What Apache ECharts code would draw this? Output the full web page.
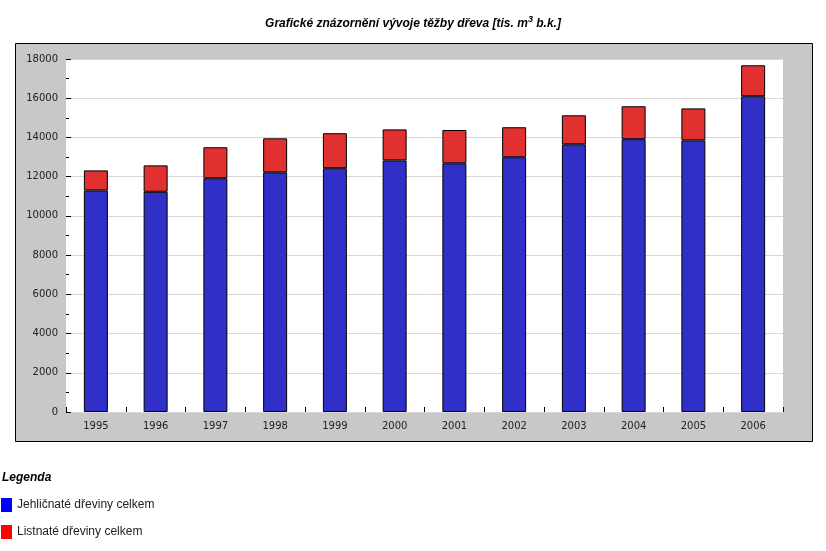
<!DOCTYPE html>
<html>
<head>
<meta charset="utf-8">
<script src="https://cdn.jsdelivr.net/npm/echarts@6/dist/echarts.min.js"></script>
<style>html,body{margin:0;padding:0;background:#fff}#c{width:826px;height:551px}</style>
</head>
<body>
<div id="c"></div>
<script>
const years = ['1995','1996','1997','1998','1999','2000','2001','2002','2003','2004','2005','2006'];
const conifers = [11300, 11230, 11920, 12220, 12430, 12830, 12680, 12990, 13650, 13910, 13850, 16100];
const broadleaves = [1020, 1345, 1580, 1735, 1785, 1580, 1700, 1530, 1480, 1680, 1630, 1580];
const yTicks = {min: 0, max: 18000, interval: 2000};
const seriesNames = ['Jehličnaté dřeviny celkem', 'Listnaté dřeviny celkem'];

const chart = echarts.init(document.getElementById('c'));
const axisFont = {fontFamily: 'DejaVu Sans', fontSize: 10, color: '#222'};
chart.setOption({
  animation: false,
  title: [{
    text: 'Grafické znázornění vývoje těžby dřeva [tis. m{sup|3} b.k.]',
    left: 'center', top: 10,
    textStyle: {
      fontFamily: 'Liberation Sans Narrow, Liberation Sans, Arial', fontSize: 12, fontWeight: 'bold', fontStyle: 'italic', color: '#000',
      rich: {sup: {fontFamily: 'Liberation Sans Narrow, Liberation Sans, Arial', fontSize: 9, fontWeight: 'bold', fontStyle: 'italic', verticalAlign: 'bottom', padding: [0,0,8,0], color: '#000'}}
    }
  }, {
    text: 'Legenda', left: 2, top: 472, padding: 0,
    textStyle: {fontFamily: 'Liberation Sans, Arial', fontSize: 12, fontWeight: 'bold', fontStyle: 'italic', color: '#000'}
  }],
  graphic: [{
    type: 'rect', z: -10, silent: true,
    shape: {x: 15.5, y: 43.5, width: 797, height: 398},
    style: {fill: '#c8c8c8', stroke: '#000', lineWidth: 1}
  }],
  legend: {
    orient: 'vertical', left: 1, top: 498, padding: 0, itemWidth: 11, itemHeight: 14, itemGap: 13,
    icon: 'rect',
    textStyle: {fontFamily: 'Liberation Sans, Arial', fontSize: 12, color: '#222'},
    data: [
      {name: seriesNames[0], itemStyle: {color: '#0000ff', borderWidth: 0}},
      {name: seriesNames[1], itemStyle: {color: '#ff0000', borderWidth: 0}}
    ]
  },
  grid: {left: 66, right: 43, top: 59, bottom: 139, show: true, backgroundColor: '#fff', borderWidth: 0},
  xAxis: {
    type: 'category', data: years, boundaryGap: true,
    axisLine: {show: false},
    axisTick: {show: true, inside: true, length: 5, lineStyle: {color: '#000'}},
    axisLabel: Object.assign({margin: 9}, axisFont),
    splitLine: {show: false}
  },
  yAxis: {
    type: 'value', min: yTicks.min, max: yTicks.max, interval: yTicks.interval,
    axisLine: {show: false},
    axisTick: {show: true, inside: true, length: 5, lineStyle: {color: '#000'}},
    minorTick: {show: true, splitNumber: 2, length: 3, lineStyle: {color: '#000'}},
    axisLabel: Object.assign({margin: 8, formatter: v => String(v)}, axisFont),
    splitLine: {show: true, lineStyle: {color: '#d8d8d8', width: 1}}
  },
  series: [{
    name: seriesNames[0], type: 'bar', stack: 'total', data: conifers, barWidth: 24,
    itemStyle: {color: '#3030c8', borderColor: '#000', borderWidth: 1}
  }, {
    name: seriesNames[1], type: 'bar', stack: 'total', data: broadleaves, barWidth: 24,
    itemStyle: {color: '#e03030', borderColor: '#000', borderWidth: 1}
  }]
});
</script>
</body>
</html>
